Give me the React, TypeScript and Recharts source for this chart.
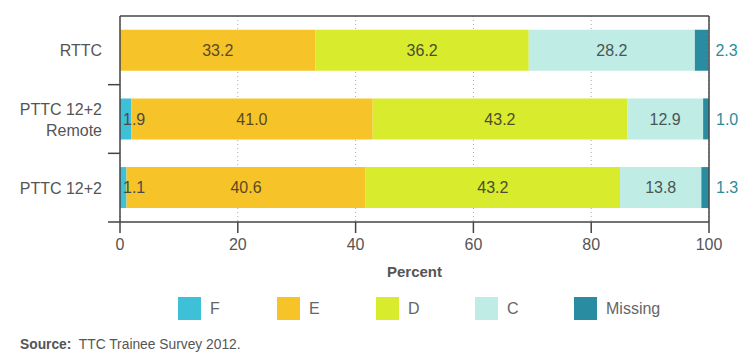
import React from 'react';
import { Bar, BarChart, CartesianGrid, LabelList, ReferenceLine, XAxis, YAxis } from 'recharts';

const categories = ['RTTC', 'PTTC 12+2\nRemote', 'PTTC 12+2'];
const fValues = [0, 1.9, 1.1];
const eValues = [33.2, 41.0, 40.6];
const dValues = [36.2, 43.2, 43.2];
const cValues = [28.2, 12.9, 13.8];
const missingValues = [2.3, 1.0, 1.3];
const xTicks = [0, 20, 40, 60, 80, 100];

const series = [
    { key: 'F', color: '#3ec0d8' },
    { key: 'E', color: '#f6c428' },
    { key: 'D', color: '#d8eb2c' },
    { key: 'C', color: '#bfece4' },
    { key: 'Missing', color: '#2a8ca0' },
];

const data = categories.map((name, i) => ({
    name,
    F: fValues[i],
    E: eValues[i],
    D: dValues[i],
    C: cValues[i],
    Missing: missingValues[i],
}));

const FONT = '"Liberation Sans", Arial, Helvetica, sans-serif';
const PLOT_TOP = 16;
const PLOT_BOTTOM = 222;
const BAND = (PLOT_BOTTOM - PLOT_TOP) / categories.length;

const fmt = (v: any) => (Number(v) > 0 ? Number(v).toFixed(1) : '');

const CategoryTick = ({ x, y, payload, index }: any) => {
    const lines = String(payload.value).split('\n');
    const lineH = 21;
    const startY = y - ((lines.length - 1) * lineH) / 2;
    return (
        <g>
            {index > 0 && (
                <line x1={108} x2={120} y1={y - BAND / 2} y2={y - BAND / 2} stroke="#444" strokeWidth={1.5} />
            )}
            {index === categories.length - 1 && (
                <line x1={108} x2={120} y1={y + BAND / 2} y2={y + BAND / 2} stroke="#444" strokeWidth={1.5} />
            )}
            <text x={102} y={startY} textAnchor="end" dominantBaseline="central" fill="#555" fontSize={16} fontFamily={FONT}>
                {lines.map((l, i) => (
                    <tspan key={i} x={102} dy={i === 0 ? 0 : lineH}>
                        {l}
                    </tspan>
                ))}
            </text>
        </g>
    );
};

export default function App() {
    return (
        <div style={{ position: 'relative', width: 750, height: 359, margin: '-8px 0 0 -8px', fontFamily: FONT, background: '#fff' }}>
            <BarChart
                width={750}
                height={359}
                data={data}
                layout="vertical"
                margin={{ top: PLOT_TOP, right: 41, left: 0, bottom: 107 }}
                barCategoryGap="20%"
            >
                <CartesianGrid horizontal={false} stroke="#aaa" strokeDasharray="1 3" />
                <CartesianGrid vertical={false} horizontalPoints={[PLOT_TOP]} stroke="#444" strokeWidth={1.5} />
                <XAxis
                    type="number"
                    domain={[0, 100]}
                    ticks={xTicks}
                    height={30}
                    axisLine={{ stroke: '#444', strokeWidth: 1.5 }}
                    tickLine={{ stroke: '#444', strokeWidth: 1.5 }}
                    tickSize={11}
                    tickMargin={6}
                    tick={{ fill: '#555', fontSize: 16, fontFamily: FONT }}
                />
                <YAxis
                    type="category"
                    dataKey="name"
                    width={120}
                    axisLine={{ stroke: '#444', strokeWidth: 1.5 }}
                    tickLine={false}
                    tick={<CategoryTick />}
                    interval={0}
                />
                <ReferenceLine x={100} stroke="#444" strokeWidth={1.5} />
                <Bar dataKey="F" stackId="a" fill={series[0].color} isAnimationActive={false}>
                    <LabelList dataKey="F" position="insideLeft" offset={3} formatter={fmt} fill="#4a4a4a" fontSize={16} fontFamily={FONT} />
                </Bar>
                <Bar dataKey="E" stackId="a" fill={series[1].color} isAnimationActive={false}>
                    <LabelList dataKey="E" position="center" formatter={fmt} fill="#5a4a22" fontSize={16} fontFamily={FONT} />
                </Bar>
                <Bar dataKey="D" stackId="a" fill={series[2].color} isAnimationActive={false}>
                    <LabelList dataKey="D" position="center" formatter={fmt} fill="#4d4d30" fontSize={16} fontFamily={FONT} />
                </Bar>
                <Bar dataKey="C" stackId="a" fill={series[3].color} isAnimationActive={false}>
                    <LabelList dataKey="C" position="center" formatter={fmt} fill="#4a5555" fontSize={16} fontFamily={FONT} />
                </Bar>
                <Bar dataKey="Missing" stackId="a" fill={series[4].color} isAnimationActive={false}>
                    <LabelList dataKey="Missing" position="right" offset={7} formatter={fmt} fill="#2a8ca0" fontSize={16} fontFamily={FONT} />
                </Bar>
            </BarChart>

            <div style={{ position: 'absolute', left: 387, top: 263, fontSize: 15, fontWeight: 'bold', color: '#555' }}>
                Percent
            </div>

            <div style={{ position: 'absolute', left: 178, top: 297, display: 'flex' }}>
                {series.map((s) => (
                    <div key={s.key} style={{ display: 'flex', alignItems: 'center', width: 99 }}>
                        <div style={{ width: 23, height: 23, background: s.color, marginRight: 9 }} />
                        <span style={{ fontSize: 16, color: '#666' }}>{s.key}</span>
                    </div>
                ))}
            </div>

            <div style={{ position: 'absolute', left: 20, top: 337, fontSize: 13.8, color: '#555' }}>
                <b>Source:</b>&nbsp; TTC Trainee Survey 2012.
            </div>
        </div>
    );
}
